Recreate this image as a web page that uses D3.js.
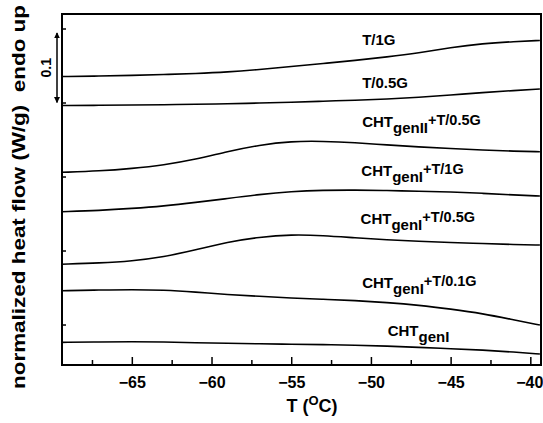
<!DOCTYPE html>
<html>
<head>
<meta charset="utf-8">
<script src="https://cdn.jsdelivr.net/npm/d3@7"></script>
<style>
  body { margin: 0; background: #fff; }
  svg text { font-family: "Liberation Sans", Arial, sans-serif !important; font-weight: bold !important; fill: #000; }
</style>
</head>
<body>
<div id="chart"></div>
<script>
const width = 543, height = 423;
const margin = {top: 14, right: 2, bottom: 58, left: 62};

// temperature grid (°C) shared by all traces
const temps = [-69.4, -67, -65, -63, -61, -59, -57, -55, -53, -51, -49, -47, -45, -43, -41, -39.4];

// normalized heat flow (W/g), offset stacked as in the figure
const t1G = [0.3351, 0.3358, 0.3365, 0.3378, 0.3392, 0.3412, 0.3446, 0.3486, 0.3527, 0.3568, 0.3615, 0.3669, 0.3743, 0.3797, 0.3824, 0.3838];
const t05G = [0.2959, 0.2962, 0.2966, 0.2970, 0.2976, 0.2982, 0.2993, 0.3004, 0.3018, 0.3031, 0.3047, 0.3070, 0.3101, 0.3135, 0.3162, 0.3182];
const genII_t05G = [0.2057, 0.2074, 0.2108, 0.2155, 0.2230, 0.2338, 0.2426, 0.2477, 0.2477, 0.2459, 0.2426, 0.2399, 0.2378, 0.2358, 0.2342, 0.2335];
const genI_t1G = [0.1524, 0.1541, 0.1568, 0.1601, 0.1649, 0.1703, 0.1757, 0.1797, 0.1815, 0.1818, 0.1811, 0.1801, 0.1791, 0.1774, 0.1750, 0.1736];
const genI_t05G = [0.0814, 0.0831, 0.0858, 0.0912, 0.1007, 0.1115, 0.1182, 0.1216, 0.1203, 0.1172, 0.1145, 0.1126, 0.1108, 0.1095, 0.1081, 0.1074];
const genI_t01G = [0.0457, 0.0466, 0.0473, 0.0466, 0.0439, 0.0405, 0.0381, 0.0358, 0.0341, 0.0324, 0.0297, 0.0261, 0.0209, 0.0149, 0.0061, -0.0007];
const genI = [-0.0241, -0.0236, -0.0232, -0.0236, -0.0246, -0.0254, -0.0261, -0.0266, -0.0272, -0.0280, -0.0291, -0.0308, -0.0327, -0.0345, -0.0372, -0.0399];

const seriesValues = [t1G, t05G, genII_t05G, genI_t1G, genI_t05G, genI_t01G, genI];
// label parts: main text, subscript, superscript
const labelMain = ['T/1G', 'T/0.5G', 'CHT', 'CHT', 'CHT', 'CHT', 'CHT'];
const labelSub = ['', '', 'genII', 'genI', 'genI', 'genI', 'genI'];
const labelSup = ['', '', '+T/0.5G', '+T/1G', '+T/0.5G', '+T/0.1G', ''];

const xTicks = [-65, -60, -55, -50, -45, -40];
const xMinorTicks = [-67.5, -62.5, -57.5, -52.5, -47.5, -42.5];
const yTicks = [0, 0.1, 0.2, 0.3, 0.4];

// label anchors (temperature, heat flow) - layout only
const labelAt = [[-50.55, 0.3777], [-50.55, 0.3196], [-50.55, 0.2669], [-50.6, 0.2007], [-50.65, 0.1358], [-50.55, 0.0493], [-48.95, -0.0149]];

const svg = d3.select('#chart').append('svg')
  .attr('width', width)
  .attr('height', height);

const x = d3.scaleLinear()
  .domain([-69.38, -39.33])
  .range([margin.left, width - margin.right]);

const y = d3.scaleLinear()
  .domain([-0.0547, 0.4196])
  .range([height - margin.bottom, margin.top]);

const plotBottom = height - margin.bottom;

// x axis, ticks pointing inward
svg.append('g')
  .attr('transform', 'translate(0,' + plotBottom + ')')
  .call(d3.axisBottom(x).tickValues(xTicks).tickSizeInner(-8).tickSizeOuter(0).tickPadding(12))
  .call(g => g.select('.domain').remove())
  .call(g => g.selectAll('line').attr('stroke', '#000').attr('stroke-width', 1.5))
  .call(g => g.selectAll('text').style('font-size', '16px').attr('fill', '#000'))
  .call(g => g.selectAll('text').filter(d => d === -40).attr('x', -1));

svg.append('g')
  .attr('transform', 'translate(0,' + plotBottom + ')')
  .call(d3.axisBottom(x).tickValues(xMinorTicks).tickSizeInner(-5).tickSizeOuter(0).tickFormat(''))
  .call(g => g.select('.domain').remove())
  .call(g => g.selectAll('line').attr('stroke', '#000').attr('stroke-width', 1.5));

// y axis: inward ticks, no labels
svg.append('g')
  .attr('transform', 'translate(' + margin.left + ',0)')
  .call(d3.axisRight(y).tickValues(yTicks).tickSizeInner(4).tickSizeOuter(0).tickFormat(''))
  .call(g => g.select('.domain').remove())
  .call(g => g.selectAll('line').attr('stroke', '#000').attr('stroke-width', 1.5));

// frame
svg.append('rect')
  .attr('x', margin.left)
  .attr('y', margin.top)
  .attr('width', width - margin.right - margin.left)
  .attr('height', plotBottom - margin.top)
  .attr('fill', 'none')
  .attr('stroke', '#000')
  .attr('stroke-width', 2);

// curves
const line = d3.line()
  .x((d, i) => x(temps[i]))
  .y(d => y(d))
  .curve(d3.curveBasis);

svg.append('g')
  .selectAll('path')
  .data(seriesValues)
  .enter().append('path')
  .attr('d', d => line(d))
  .attr('fill', 'none')
  .attr('stroke', '#000')
  .attr('stroke-width', 1.6);

// curve labels
const labels = svg.append('g')
  .selectAll('text')
  .data(labelMain)
  .enter().append('text')
  .attr('x', (d, i) => x(labelAt[i][0]))
  .attr('y', (d, i) => y(labelAt[i][1]))
  .style('font-size', '15px');

labels.append('tspan').text(d => d);
labels.each(function (d, i) {
  const t = d3.select(this);
  if (labelSub[i]) {
    t.append('tspan').attr('dy', 6).text(labelSub[i]);
  }
  if (labelSup[i]) {
    t.append('tspan').attr('dy', -8).style('font-size', '14.5px').text(labelSup[i]);
  }
});

// x axis title
const xt = svg.append('text')
  .attr('x', 312)
  .attr('y', 412)
  .attr('text-anchor', 'middle')
  .style('font-size', '18px');
xt.append('tspan').text('T (');
xt.append('tspan').attr('dy', -7).style('font-size', '13px').text('O');
xt.append('tspan').attr('dy', 7).text('C)');

// y axis title
svg.append('text')
  .attr('transform', 'translate(25,197) rotate(-90)')
  .attr('text-anchor', 'middle')
  .attr('textLength', 384)
  .attr('lengthAdjust', 'spacingAndGlyphs')
  .style('font-size', '19px')
  .style('white-space', 'pre')
  .text('normalized heat flow (W/g)  endo up');

// 0.1 W/g scale bar
const defs = svg.append('defs');
defs.append('marker')
  .attr('id', 'head')
  .attr('viewBox', '0 0 10 10')
  .attr('refX', 9).attr('refY', 5)
  .attr('markerWidth', 6).attr('markerHeight', 8)
  .attr('markerUnits', 'userSpaceOnUse')
  .attr('orient', 'auto-start-reverse')
  .append('path')
  .attr('d', 'M0,0 L10,5 L0,10 Z')
  .attr('fill', '#000');

svg.append('line')
  .attr('x1', 57).attr('x2', 57)
  .attr('y1', y(0.3)).attr('y2', y(0.394))
  .attr('stroke', '#000')
  .attr('stroke-width', 1.5)
  .attr('marker-start', 'url(#head)')
  .attr('marker-end', 'url(#head)');

svg.append('text')
  .attr('transform', 'translate(51,' + y(0.347) + ') rotate(-90)')
  .attr('text-anchor', 'middle')
  .style('font-size', '14px')
  .text('0.1');
</script>
</body>
</html>
